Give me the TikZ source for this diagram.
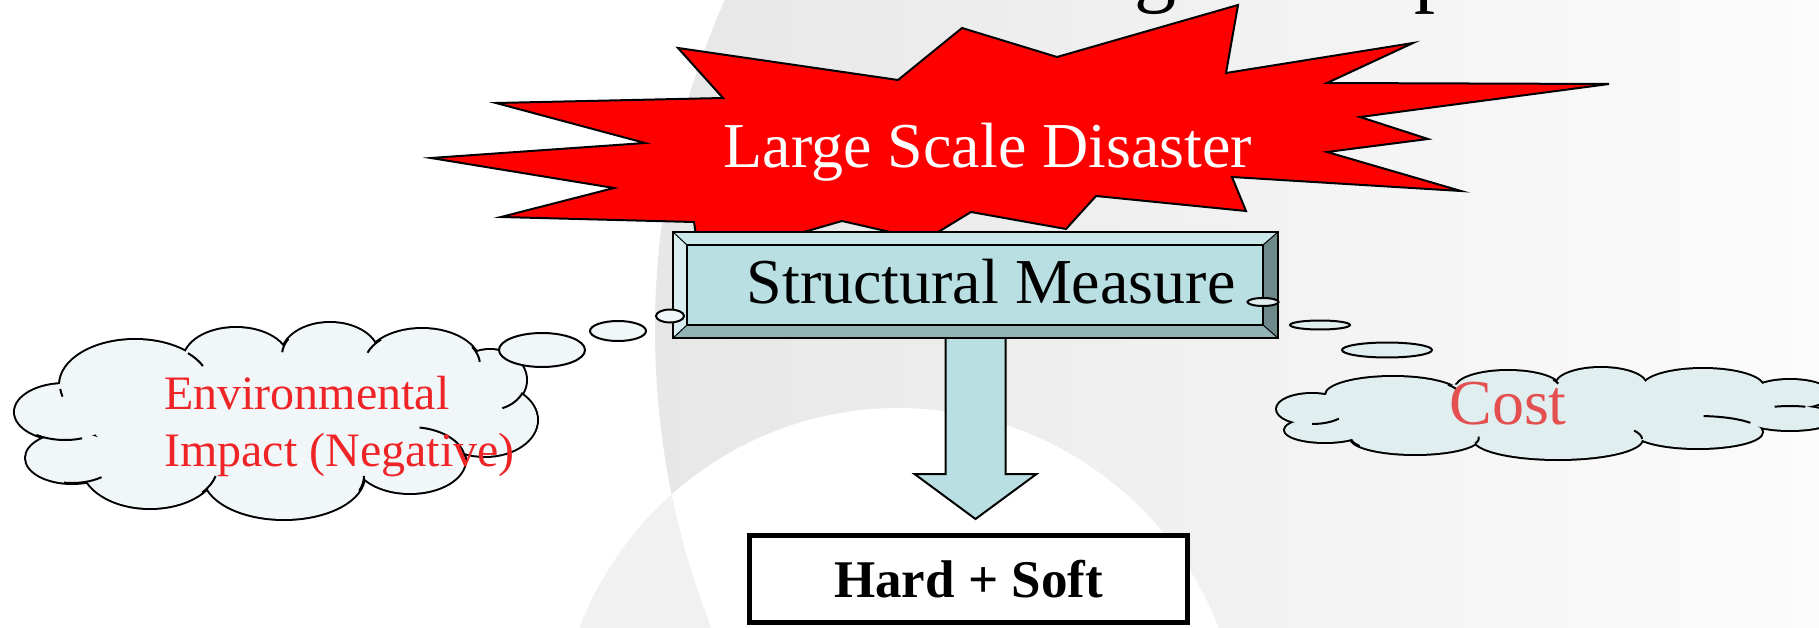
\documentclass[tikz,border=0pt]{standalone}
\usepackage{fontspec}
\setmainfont{Liberation Serif}
\usetikzlibrary{calc}
\definecolor{starred}{RGB}{255,0,0}
\definecolor{boxmid}{RGB}{185,223,226}
\definecolor{boxtop}{RGB}{202,231,233}
\definecolor{boxleft}{RGB}{216,238,240}
\definecolor{boxright}{RGB}{110,137,138}
\definecolor{boxbot}{RGB}{148,179,181}
\definecolor{cloudL}{RGB}{241,247,249}
\definecolor{cloudR}{RGB}{224,238,240}
\definecolor{envred}{RGB}{238,36,38}
\definecolor{costred}{RGB}{228,80,80}
\definecolor{bgA}{RGB}{231,231,231}
\definecolor{bgB}{RGB}{252,252,252}
\definecolor{bgC}{RGB}{241,241,241}
\begin{document}
\begin{tikzpicture}[x=1pt,y=-1pt,
  outl/.style={draw=black, line width=2pt},
  puffL/.style={draw=black, line width=4pt, fill=cloudL},
  puffR/.style={draw=black, line width=4pt, fill=cloudR},
  hookline/.style={draw=black, line width=2pt},
  bubL/.style={draw=black, line width=2pt, fill=cloudL},
  bubR/.style={draw=black, line width=2pt, fill=cloudR},
  lbl/.style={inner sep=0pt, anchor=base},
  bevel/.style={draw=black, line width=1pt},
]
\useasboundingbox (0,0) rectangle (1819,628);
\clip (0,0) rectangle (1819,628);
\fill[white] (0,0) rectangle (1819,628);
% background swoosh
\begin{scope}
  \clip (1468,330) circle [radius=813];
  \shade[left color=bgA, right color=bgB] (650,0) rectangle (1819,628);
  \fill[white] (899,750) circle [radius=342];
\end{scope}
\begin{scope}
  \clip (899,750) circle [radius=342];
  \fill[bgC, even odd rule] (0,0) rectangle (1819,628) (1468,330) circle [radius=813];
\end{scope}
% cut-off title glyphs
\node[lbl, font=\fontsize{84}{84}\selectfont] (tg) at (1155,-3) {g};
\node[lbl, anchor=base west, font=\fontsize{84}{84}\selectfont] (tp) at (1414,-3) {p};
% explosion star
\path[outl, fill=starred] (1238,5) -- (1226,73) -- (1413,43) -- (1327,83) -- (1609,84) -- (1360,117) -- (1428,139) -- (1327,152) -- (1461,191) -- (1232,177) -- (1246,211) -- (1096,196) -- (1066,229) -- (971,212) -- (925,240) -- (842,221) -- (700,262) -- (694,222) -- (501,217) -- (614,188) -- (431,158) -- (645,143) -- (496,103) -- (723,98) -- (678,48) -- (898,80) -- (962,28) -- (1057,57) -- cycle;
\node[lbl, text=white, font=\fontsize{64}{64}\selectfont] (lsd) at (988,168) {Large Scale Disaster};
% nodes
\node[inner sep=0pt, minimum width=605, minimum height=106] (sm) at (975.5,285) {};
\node[draw=black, line width=5pt, fill=white, inner sep=0pt, minimum width=438, minimum height=87, font=\bfseries\fontsize{53}{53}\selectfont] (hs) at (968.5,579) {Hard + Soft};
% arrow from sm to hs
\coordinate (tip) at ($(sm.south |- hs.north)+(0,-14)$);
\path[outl, fill=boxmid] ($(sm.south)+(-30,-3)$) -- ($(sm.south)+(30,-3)$) -- ($(tip)+(30,-45)$) -- ($(tip)+(61,-45)$) -- (tip) -- ($(tip)+(-61,-45)$) -- ($(tip)+(-30,-45)$) -- cycle;
% bevel box
\coordinate (o1) at (sm.north west);
\coordinate (o2) at (sm.north east);
\coordinate (o3) at (sm.south east);
\coordinate (o4) at (sm.south west);
\coordinate (i1) at ($(o1)+(14,13)$);
\coordinate (i2) at ($(o2)+(-15,13)$);
\coordinate (i3) at ($(o3)+(-15,-13)$);
\coordinate (i4) at ($(o4)+(14,-13)$);
\fill[boxtop] (o1) -- (o2) -- (i2) -- (i1) -- cycle;
\fill[boxleft] (o1) -- (i1) -- (i4) -- (o4) -- cycle;
\fill[boxright] (o2) -- (o3) -- (i3) -- (i2) -- cycle;
\fill[boxbot] (o4) -- (i4) -- (i3) -- (o3) -- cycle;
\fill[boxmid] (i1) rectangle (i3);
\draw[bevel] (o1) -- (i1) (o2) -- (i2) (o3) -- (i3) (o4) -- (i4);
\draw[draw=black, line width=2pt] (i1) rectangle (i3);
\draw[draw=black, line width=2.5pt] (o1) rectangle (o3);
\node[lbl, font=\fontsize{64}{64}\selectfont] (smt) at (991,303) {Structural Measure};
% left cloud
\foreach \cx/\cy/\rx/\ry in {135/385/75/45, 236/360/52/32, 330/355/48/32, 422/365/58/36, 490/380/36/30, 485/420/52/36, 410/460/55/33, 284/476/80/43, 150/465/68/43, 72/458/46/25, 65/412/50/28}
  \path[puffL] (\cx,\cy) ellipse [x radius=\rx, y radius=\ry];
\foreach \cx/\cy/\rx/\ry in {135/385/75/45, 236/360/52/32, 330/355/48/32, 422/365/58/36, 490/380/36/30, 485/420/52/36, 410/460/55/33, 284/476/80/43, 150/465/68/43, 72/458/46/25, 65/412/50/28}
  \fill[cloudL] (\cx,\cy) ellipse [x radius=\rx, y radius=\ry];
\fill[cloudL] (280,420) ellipse [x radius=190, y radius=60];
\foreach \cx/\cy/\rx/\ry/\a/\b in {135/385/75/45/-45/-25, 135/385/75/45/175/165, 65/412/50/28/70/125, 72/458/46/25/50/100, 150/465/68/43/15/40, 284/476/80/43/0/20, 490/380/36/30/25/70, 422/365/58/36/-30/-5, 422/365/58/36/-160/-135, 330/355/48/32/-175/-150, 410/460/55/33/-80/-5}
  \draw[hookline] (\cx,\cy) ++({\rx*cos(\a)},{\ry*sin(\a)}) arc [start angle=\a, end angle=\b, x radius=\rx, y radius=\ry];
% right cloud
\foreach \cx/\cy/\rx/\ry in {1312/409/35/15, 1325/430/40/12, 1393/395/67/18, 1508/388/52/17, 1601/385/45/17, 1703/387/60/18, 1790/394/40/14, 1790/418/45/12, 1698/432/64/16, 1558/439/84/20, 1415/438/64/16}
  \path[puffR] (\cx,\cy) ellipse [x radius=\rx, y radius=\ry];
\foreach \cx/\cy/\rx/\ry in {1312/409/35/15, 1325/430/40/12, 1393/395/67/18, 1508/388/52/17, 1601/385/45/17, 1703/387/60/18, 1790/394/40/14, 1790/418/45/12, 1698/432/64/16, 1558/439/84/20, 1415/438/64/16}
  \fill[cloudR] (\cx,\cy) ellipse [x radius=\rx, y radius=\ry];
\fill[cloudR] (1550,412) ellipse [x radius=230, y radius=30];
\foreach \cx/\cy/\rx/\ry/\a/\b in {1312/409/35/15/40/90, 1415/438/64/16/150/175, 1415/438/64/16/-5/20, 1558/439/84/20/-25/0, 1698/432/64/16/-85/-35, 1790/418/45/12/-110/-70, 1393/395/67/18/-35/-15, 1508/388/52/17/-30/-15}
  \draw[hookline] (\cx,\cy) ++({\rx*cos(\a)},{\ry*sin(\a)}) arc [start angle=\a, end angle=\b, x radius=\rx, y radius=\ry];
% thought bubbles
\path[bubL] (542,350) ellipse [x radius=43, y radius=17];
\path[bubL] (618,331) ellipse [x radius=28, y radius=10];
\path[bubL] (670,316) ellipse [x radius=14, y radius=6.5];
\path[bubR] (1263,302) ellipse [x radius=15.5, y radius=4];
\path[bubR] (1320,325) ellipse [x radius=30, y radius=4.5];
\path[bubR] (1387,350) ellipse [x radius=45, y radius=7.5];
% cloud texts
\node[lbl, anchor=base west, text=envred, font=\fontsize{48}{48}\selectfont] (env1) at (164,409) {Environmental};
\node[lbl, anchor=base west, text=envred, font=\fontsize{48}{48}\selectfont] (env2) at (164,466) {Impact (Negative)};
\node[lbl, text=costred, font=\fontsize{64}{64}\selectfont] (cost) at (1508,424) {Cost};
\end{tikzpicture}
\end{document}
